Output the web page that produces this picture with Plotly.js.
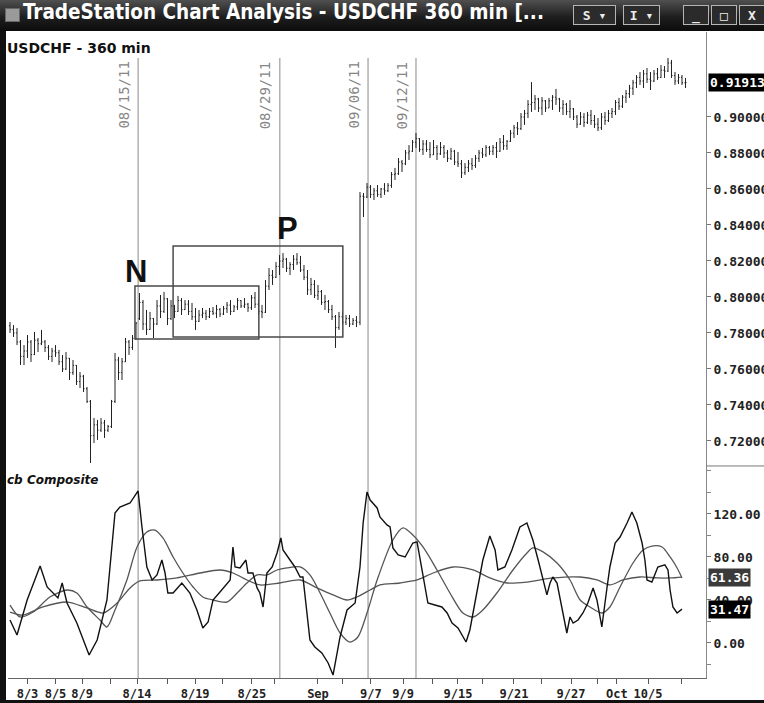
<!DOCTYPE html>
<html>
<head>
<meta charset="utf-8">
<script src="https://cdn.plot.ly/plotly-3.0.1.min.js"></script>
<style>
  body { margin: 0; background: #fff; }
  #frame { position: relative; width: 764px; height: 703px; overflow: hidden; background: #fff; }
  #chart { position: absolute; left: 0; top: 0; width: 764px; height: 703px; }
  .titlebar { position: absolute; left: 0; top: 0; width: 764px; height: 31px;
    background: linear-gradient(#505050, #1e1e1e 55%, #0c0c0c); }
  .title { position: absolute; left: 23px; top: 0; line-height: 31px; color: #fff; white-space: nowrap;
    font: bold 20.5px "DejaVu Sans Condensed", "DejaVu Sans", sans-serif; }
  .icon { position: absolute; left: 5px; top: 8px; width: 13px; height: 12px; background: #9a9a9a; border: 1px solid #666; }
  .btn { position: absolute; top: 5px; height: 20px; border: 1px solid #b5b5b5; background: #2b2b2b; color: #eee;
    font: bold 13px "DejaVu Sans Mono", monospace; line-height: 20px; text-align: center; box-sizing: border-box; }
  .lborder { position: absolute; left: 0; top: 0; width: 6px; height: 703px; background: #111; }
  .bborder { position: absolute; left: 0; bottom: 0; width: 764px; height: 3px; background: #111; }
</style>
</head>
<body>
<div id="frame">
  <div id="chart"></div>
  <div class="lborder"></div>
  <div class="bborder"></div>
  <div class="titlebar">
    <div class="icon"></div>
    <div class="title">TradeStation Chart Analysis - USDCHF 360 min [...</div>
    <div class="btn" style="left:573px;width:43px">S ▾</div>
    <div class="btn" style="left:623px;width:37px">I ▾</div>
    <div class="btn" style="left:683px;width:26px">_</div>
    <div class="btn" style="left:711px;width:26px">□</div>
    <div class="btn" style="left:739px;width:26px">X</div>
  </div>
</div>
<script>
// USDCHF 360-min bars, one per 6h session, 8/2/11 .. 10/7/11
const barOpen = [
  .7840,.7820,.7800,.7750,.7670,.7700,.7750,.7680,.7760,.7740,
  .7750,.7720,.7670,.7700,.7690,.7640,.7600,.7660,.7580,.7620,
  .7530,.7560,.7490,.7420,.7230,.7290,.7260,.7300,.7260,.7280,
  .7420,.7650,.7580,.7640,.7750,.7720,.7770,.7880,.7970,.7850,
  .7820,.7880,.7850,.7950,.7920,.7990,.7880,.7950,.7920,.7980,
  .7930,.7960,.7920,.7890,.7865,.7900,.7910,.7890,.7920,.7910,
  .7930,.7905,.7935,.7955,.7920,.7945,.7980,.7950,.7960,.7940,
  .7995,.7960,.7920,.7915,.8060,.8120,.8110,.8170,.8200,.8210,
  .8160,.8180,.8210,.8190,.8150,.8110,.8040,.8070,.8010,.8030,
  .7970,.7975,.7930,.7890,.7830,.7890,.7860,.7880,.7850,.7870,
  .7860,.8560,.8555,.8610,.8570,.8590,.8570,.8600,.8590,.8620,
  .8680,.8685,.8750,.8740,.8800,.8810,.8860,.8880,.8820,.8850,
  .8820,.8790,.8830,.8795,.8830,.8800,.8770,.8810,.8750,.8740,
  .8690,.8720,.8740,.8730,.8770,.8800,.8790,.8830,.8810,.8830,
  .8810,.8860,.8840,.8865,.8910,.8940,.8935,.9000,.9020,.9070,
  .9080,.9100,.9050,.9090,.9050,.9090,.9110,.9100,.9050,.9070,
  .9030,.9045,.9000,.8960,.9000,.8970,.9010,.8980,.8960,.8940,
  .9000,.8980,.9020,.9030,.9080,.9060,.9110,.9130,.9160,.9190,
  .9220,.9200,.9240,.9210,.9200,.9240,.9220,.9260,.9255,.9300,
  .9230,.9200,.9220,.9190
];
const barHigh = [
  .7861,.7844,.7828,.7761,.7733,.7789,.7761,.7806,.7772,.7817,
  .7761,.7733,.7717,.7733,.7706,.7678,.7694,.7661,.7650,.7622,
  .7583,.7567,.7500,.7428,.7328,.7317,.7328,.7317,.7289,.7428,
  .7689,.7667,.7661,.7772,.7761,.7789,.7861,.8022,.7983,.7928,
  .7917,.7883,.7983,.8011,.8028,.7994,.7983,.7956,.8006,.7994,
  .7983,.7983,.7967,.7939,.7928,.7939,.7928,.7939,.7944,.7956,
  .7939,.7950,.7972,.7983,.7956,.7994,.7983,.7994,.7967,.8011,
  .8028,.7983,.7956,.8094,.8161,.8150,.8194,.8233,.8244,.8217,
  .8194,.8233,.8244,.8228,.8178,.8150,.8106,.8094,.8067,.8039,
  .8011,.7983,.7956,.7900,.7917,.7917,.7900,.7900,.7883,.7894,
  .8583,.8578,.8633,.8622,.8606,.8622,.8606,.8633,.8633,.8694,
  .8717,.8772,.8761,.8817,.8844,.8872,.8911,.8883,.8872,.8872,
  .8861,.8872,.8844,.8861,.8844,.8817,.8828,.8817,.8806,.8761,
  .8744,.8761,.8772,.8789,.8817,.8828,.8844,.8839,.8844,.8861,
  .8883,.8900,.8872,.8928,.8956,.8972,.9022,.9039,.9094,.9194,
  .9122,.9106,.9111,.9094,.9106,.9122,.9156,.9106,.9094,.9078,
  .9094,.9050,.9011,.9028,.9022,.9028,.9039,.9011,.8994,.9022,
  .9028,.9039,.9050,.9094,.9106,.9122,.9150,.9178,.9206,.9233,
  .9250,.9261,.9272,.9250,.9261,.9272,.9289,.9283,.9328,.9317,
  .9250,.9239,.9233,.9217
];
const barLow = [
  .7800,.7778,.7733,.7622,.7622,.7661,.7639,.7678,.7694,.7733,
  .7694,.7650,.7639,.7667,.7622,.7583,.7594,.7539,.7567,.7511,
  .7494,.7472,.7411,.7078,.7189,.7206,.7250,.7217,.7250,.7272,
  .7411,.7539,.7539,.7639,.7678,.7706,.7761,.7872,.7817,.7789,
  .7817,.7772,.7844,.7883,.7911,.7844,.7872,.7883,.7917,.7900,
  .7928,.7900,.7872,.7817,.7861,.7883,.7872,.7883,.7900,.7883,
  .7889,.7900,.7911,.7900,.7917,.7928,.7939,.7939,.7917,.7928,
  .7939,.7900,.7883,.7911,.8039,.8067,.8106,.8122,.8161,.8139,
  .8122,.8150,.8178,.8139,.8094,.8011,.8011,.7994,.7983,.7956,
  .7928,.7911,.7872,.7717,.7817,.7844,.7844,.7833,.7844,.7833,
  .7844,.8444,.8550,.8550,.8539,.8556,.8550,.8567,.8583,.8606,
  .8650,.8678,.8694,.8733,.8761,.8806,.8828,.8806,.8789,.8806,
  .8772,.8789,.8761,.8789,.8772,.8750,.8761,.8733,.8722,.8661,
  .8678,.8694,.8706,.8717,.8750,.8772,.8778,.8789,.8789,.8772,
  .8806,.8817,.8817,.8861,.8883,.8900,.8928,.8956,.8994,.9028,
  .9039,.9028,.9011,.9028,.9050,.9039,.9067,.9028,.9011,.9011,
  .8994,.8983,.8939,.8956,.8944,.8961,.8956,.8939,.8922,.8928,
  .8956,.8972,.8994,.9011,.9039,.9050,.9078,.9106,.9122,.9161,
  .9178,.9161,.9189,.9150,.9194,.9206,.9217,.9217,.9250,.9217,
  .9178,.9183,.9178,.9161
];
const barClose = [
  .7820,.7800,.7750,.7670,.7700,.7750,.7680,.7760,.7740,.7750,
  .7720,.7670,.7700,.7690,.7640,.7600,.7660,.7580,.7620,.7530,
  .7560,.7490,.7420,.7230,.7290,.7260,.7300,.7260,.7280,.7420,
  .7650,.7580,.7640,.7750,.7720,.7770,.7855,.7970,.7850,.7820,
  .7880,.7850,.7950,.7920,.7990,.7880,.7950,.7920,.7980,.7930,
  .7960,.7920,.7890,.7865,.7900,.7910,.7890,.7920,.7910,.7930,
  .7905,.7935,.7955,.7920,.7945,.7980,.7950,.7960,.7940,.7995,
  .7960,.7920,.7915,.8060,.8120,.8110,.8170,.8200,.8210,.8160,
  .8180,.8210,.8190,.8150,.8110,.8040,.8070,.8010,.8030,.7970,
  .7975,.7930,.7890,.7830,.7890,.7860,.7880,.7850,.7870,.7860,
  .8560,.8555,.8610,.8570,.8590,.8570,.8600,.8590,.8620,.8680,
  .8685,.8750,.8740,.8800,.8810,.8860,.8880,.8820,.8850,.8820,
  .8790,.8830,.8795,.8830,.8800,.8770,.8810,.8750,.8740,.8690,
  .8720,.8740,.8730,.8770,.8800,.8790,.8830,.8810,.8830,.8810,
  .8860,.8840,.8865,.8910,.8940,.8935,.9000,.9020,.9070,.9080,
  .9100,.9050,.9090,.9050,.9090,.9110,.9100,.9050,.9070,.9030,
  .9045,.9000,.8960,.9000,.8970,.9010,.8980,.8960,.8940,.9000,
  .8980,.9020,.9030,.9080,.9060,.9110,.9130,.9160,.9190,.9220,
  .9200,.9240,.9210,.9200,.9240,.9220,.9260,.9255,.9300,.9230,
  .9200,.9220,.9190,.9191
];

// cb Composite and its two averages (x = bar number)
const compX = [0,2.0,4.9,8.6,10.6,12.0,13.7,14.9,16.3,19.1,
  20.9,22.6,24.9,27.7,30.0,31.4,34.3,36.6,37.7,39.1,
  40.6,42.0,43.4,44.3,45.1,46.6,49.1,51.4,53.4,55.1,
  56.6,58.0,60.0,62.9,63.7,64.3,65.7,67.4,68.0,69.4,
  70.6,71.4,72.3,73.4,74.9,76.3,77.4,78.0,80.0,81.4,
  82.9,83.7,85.7,87.1,89.1,90.9,92.3,94.3,96.3,98.6,
  100.0,100.9,102.0,102.9,104.9,105.7,107.7,108.6,109.4,110.9,
  112.9,115.1,116.3,117.1,118.6,119.4,121.4,123.4,124.9,126.3,
  128.0,130.3,131.4,133.4,135.1,137.1,138.6,139.4,141.4,143.4,
  145.7,147.7,149.4,150.9,152.3,153.4,154.3,155.1,156.3,157.7,
  159.1,160.0,160.9,162.3,163.7,165.1,166.6,167.7,169.1,170.6,
  171.4,172.9,174.3,176.3,177.7,179.1,180.6,181.4,182.0,183.4,
  184.3,185.1,187.1,188.0,188.6,189.4,190.6,192.0];
const compV = [21.4,7.4,40.0,71.6,52.1,47.4,41.9,55.8,37.2,18.6,
  2.8,-11.2,2.8,40.0,120.9,126.5,130.2,141.4,107.9,70.7,
  58.6,63.3,77.2,65.1,46.5,46.5,55.8,46.5,30.7,14.0,
  19.5,40.0,47.4,58.6,89.3,70.7,69.8,77.2,65.1,65.1,
  51.2,46.5,33.5,65.1,70.7,83.7,97.7,86.5,77.2,70.7,
  61.4,61.4,2.8,-3.7,-9.3,-18.6,-29.8,5.6,30.7,37.2,
  70.7,111.6,140.5,133.0,125.6,117.2,109.8,107.9,88.4,81.9,
  80.0,93.0,94.0,80.0,52.1,37.2,35.3,33.5,27.9,18.6,
  14.0,0.9,12.1,46.5,77.2,99.5,86.5,67.9,70.7,86.5,
  107.9,111.6,95.8,77.2,58.6,44.7,55.8,61.4,55.8,33.5,
  9.3,24.2,18.6,21.4,27.9,37.2,51.2,40.0,14.9,52.1,
  70.7,93.0,98.6,111.6,121.9,111.6,93.0,77.2,58.6,56.7,
  63.3,70.7,72.6,67.9,49.3,33.5,27.9,31.47];
const fastX = [0,2.9,6.6,11.4,16.3,19.1,22.0,25.7,27.7,30.0,
  33.4,36.3,39.1,41.4,43.7,46.6,49.4,52.3,55.1,58.0,
  62.0,64.9,67.7,70.6,73.4,76.3,79.1,82.9,85.7,88.6,
  91.4,94.3,97.1,99.4,102.0,104.9,109.4,112.3,115.1,
  118.0,122.0,125.7,129.4,132.3,135.1,139.1,143.7,147.7,149.4,
  152.3,156.3,160.0,162.9,165.7,169.1,171.4,174.3,178.0,180.9,
  183.4,186.3,188.6,190.6,192.0];
const fastV = [35.3,24.2,28.8,42.8,49.3,46.5,33.5,21.4,14.9,30.7,
  58.6,89.3,103.3,105.1,97.7,80.0,65.1,52.1,42.8,40.0,
  38.1,46.5,55.8,63.3,63.3,67.9,69.8,70.7,63.3,46.5,
  27.9,9.3,0.9,5.6,27.9,58.6,95.8,107.0,100.5,
  89.3,67.9,46.5,27.9,24.2,30.7,46.5,67.9,83.7,88.4,
  84.7,74.4,58.6,40.0,33.5,27.9,33.5,52.1,74.4,86.5,
  90.2,89.3,80.0,69.8,60.5];
const slowX = [0,3.7,9.4,16.3,22.0,26.6,30.6,34.3,37.1,42.0,
  47.7,54.3,60.0,63.7,67.7,71.4,77.1,82.9,87.7,92.3,
  96.3,99.1,102.9,105.7,111.4,116.3,120.9,126.6,132.3,137.1,
  142.0,147.7,155.1,162.9,167.7,171.4,175.1,180.0,184.9,188.6,192.0];
const slowV = [28.8,26.0,33.5,38.1,32.6,27.9,37.2,51.2,57.7,58.6,
  60.5,65.1,67.9,65.1,58.6,54.0,55.8,58.6,51.2,44.7,
  40.0,42.8,49.3,54.0,55.8,58.6,65.1,70.7,67.9,60.5,
  55.8,56.7,60.5,61.4,58.6,54.0,58.6,61.4,60.5,60.5,61.36];

// time axis
const tickVals = [5,13,20.6,28.6,36.3,44.9,52.9,60.6,69.1,75.7,
  88,95.1,103.1,112.3,120.6,128,135.1,144,152,160.3,168,173.4,182.3,192];
const tickText = ["8/3","8/5","8/9","","8/14","","8/19","","8/25","",
  "Sep","","9/7","9/9","","9/15","","9/21","","9/27","","Oct","10/5",""];
const priceTicks = [0.72,0.74,0.76,0.78,0.80,0.82,0.84,0.86,0.88,0.90];
const compTicks = [0,40,80,120];

// drawn study marks
const markIdx = [36.6,77.1,102.3,116.0];
const markText = ["08/15/11","08/29/11","09/06/11","09/12/11"];
const boxX0 = [35.7,46.6], boxX1 = [71.1,95.1];
const boxY0 = [0.7767,0.7778], boxY1 = [0.8061,0.8283];
const lastPrice = 0.91913, lastSlow = 61.36, lastComp = 31.47;

const barX = barClose.map((_, i) => i);
const MONO = "DejaVu Sans Mono";
const INK = "#222";

const traces = [
  {
    type: "ohlc", x: barX, open: barOpen, high: barHigh, low: barLow, close: barClose,
    xaxis: "x", yaxis: "y", hoverinfo: "skip", tickwidth: 0.3,
    increasing: { line: { color: INK, width: 1 } },
    decreasing: { line: { color: INK, width: 1 } },
  },
  { type: "scatter", mode: "lines", x: slowX, y: slowV, xaxis: "x", yaxis: "y2",
    line: { color: "#555", width: 1.3, shape: "spline", smoothing: 0.8 }, hoverinfo: "skip" },
  { type: "scatter", mode: "lines", x: fastX, y: fastV, xaxis: "x", yaxis: "y2",
    line: { color: "#555", width: 1.3, shape: "spline", smoothing: 0.8 }, hoverinfo: "skip" },
  { type: "scatter", mode: "lines", x: compX, y: compV, xaxis: "x", yaxis: "y2",
    line: { color: "#111", width: 1.4 }, hoverinfo: "skip" },
];

const shapes = [];
markIdx.forEach((m) => shapes.push({
  type: "line", xref: "x", yref: "paper", x0: m, x1: m, y0: 0, y1: 0.9598,
  line: { color: "#8a8a8a", width: 1 }, layer: "below",
}));
boxX0.forEach((x0, k) => shapes.push({
  type: "rect", xref: "x", yref: "y", x0, x1: boxX1[k], y0: boxY0[k], y1: boxY1[k],
  line: { color: "#4a4a4a", width: 1.5 },
}));
// pane separator in the price-scale column
shapes.push({ type: "line", xref: "paper", yref: "paper", x0: 1, x1: 1.09, y0: 0.3282, y1: 0.3282,
  line: { color: "#777", width: 1 } });

const annotations = [];
markIdx.forEach((m, k) => annotations.push({
  x: m, xref: "x", y: 0.9567, yref: "paper", text: markText[k], textangle: -90,
  xanchor: "right", yanchor: "top", xshift: -4, showarrow: false,
  font: { family: MONO, size: 14, color: "#858585" },
}));
annotations.push(
  { x: 36, xref: "x", y: 0.8144, yref: "y", text: "N", showarrow: false,
    font: { family: "Liberation Sans", size: 31, weight: "bold", color: "#111" } },
  { x: 79.4, xref: "x", y: 0.8383, yref: "y", text: "P", showarrow: false,
    font: { family: "Liberation Sans", size: 31, weight: "bold", color: "#111" } },
  { x: -0.004, xref: "paper", y: 0.9752, yref: "paper", text: "USDCHF - 360 min", showarrow: false,
    xanchor: "left", yanchor: "middle",
    font: { family: "DejaVu Sans", size: 14, weight: "bold", color: "#111" } },
  { x: -0.004, xref: "paper", y: 0.3065, yref: "paper", text: "cb Composite", showarrow: false,
    xanchor: "left", yanchor: "middle",
    font: { family: "DejaVu Sans", size: 12, weight: "bold", style: "italic", color: "#111" } },
  { x: 1, xref: "paper", y: lastPrice, yref: "y", text: lastPrice.toFixed(5), showarrow: false,
    xanchor: "left", xshift: 2, bgcolor: "#000", borderpad: 1,
    font: { family: MONO, size: 13, weight: "bold", color: "#fff" } },
  { x: 1, xref: "paper", y: lastSlow, yref: "y2", text: lastSlow.toFixed(2), showarrow: false,
    xanchor: "left", xshift: 2, bgcolor: "#3b3b3b", borderpad: 1,
    font: { family: MONO, size: 13, weight: "bold", color: "#fff" } },
  { x: 1, xref: "paper", y: lastComp, yref: "y2", text: lastComp.toFixed(2), showarrow: false,
    xanchor: "left", xshift: 2, bgcolor: "#000", borderpad: 1,
    font: { family: MONO, size: 13, weight: "bold", color: "#fff" } },
);

const tickFont = { family: MONO, size: 13, weight: "bold", color: "#222" };

const layout = {
  width: 764, height: 703,
  margin: { l: 8, r: 58, t: 32, b: 25 },
  paper_bgcolor: "#fff", plot_bgcolor: "#fff",
  showlegend: false,
  xaxis: {
    range: [-0.571, 198.86], anchor: "y2", rangeslider: { visible: false },
    tickmode: "array", tickvals: tickVals, ticktext: tickText,
    ticks: "outside", ticklen: 5, tickcolor: "#555",
    showline: true, linecolor: "#666", showgrid: false, zeroline: false,
    tickfont: { family: MONO, size: 12, weight: "bold", color: "#222" },
  },
  yaxis: {
    domain: [0.3282, 1], side: "right", range: [0.70611, 0.94722],
    tickmode: "array", tickvals: priceTicks, tickformat: ".5f",
    ticks: "outside", ticklen: 4, tickcolor: "#777",
    showline: true, linecolor: "#888", showgrid: false, zeroline: false,
    tickfont: tickFont,
  },
  yaxis2: {
    domain: [0, 0.3282], side: "right", range: [-32.56, 164.65],
    tickmode: "array", tickvals: compTicks, tickformat: ".2f",
    ticks: "outside", ticklen: 4, tickcolor: "#777",
    minor: { dtick: 20, tick0: 0, ticks: "outside", ticklen: 4, tickcolor: "#888", showgrid: false },
    showline: true, linecolor: "#888", showgrid: false, zeroline: false,
    tickfont: tickFont,
  },
  shapes, annotations,
};

Plotly.newPlot("chart", traces, layout, { displayModeBar: false, staticPlot: true });
</script>
</body>
</html>
